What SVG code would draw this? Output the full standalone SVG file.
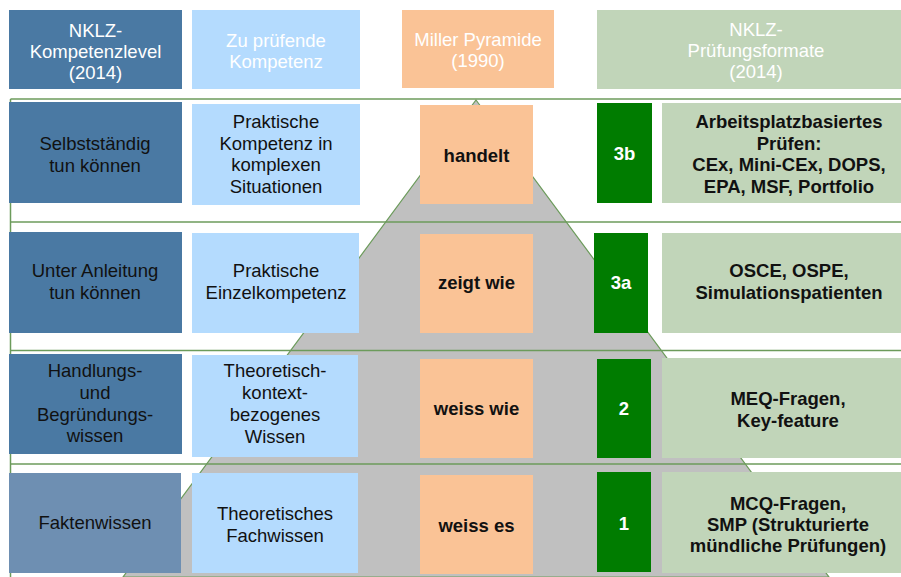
<svg xmlns="http://www.w3.org/2000/svg" width="901" height="577" viewBox="0 0 901 577">
<style>
.t{font-family:"Liberation Sans",Arial,sans-serif;font-size:18.5px;text-anchor:middle;fill:#111}
.h{fill:#ffffff}
.b{font-weight:bold}
.w{fill:#ffffff;font-weight:bold}
.db{fill:#4a79a3}
.db4{fill:#6e8fb2}
.lb{fill:#b4dbfe}
.or{fill:#fac396}
.sg{fill:#c1d5b9}
.gr{fill:#007c00}
.ln{stroke:#6c9b5b;stroke-width:1.5;fill:none}
</style>
<rect width="901" height="577" fill="#ffffff"/>
<g id="pyramid">
<polygon points="476,100 829,577 123,577" fill="#c0c0c0" stroke="#6c9b5b" stroke-width="1.2"/>
</g>
<g id="connectors">
<line class="ln" x1="10.5" y1="99" x2="901" y2="99"/>
<line class="ln" x1="10.5" y1="99" x2="10.5" y2="577"/>
<line class="ln" x1="10.5" y1="222" x2="901" y2="222"/>
<line class="ln" x1="10.5" y1="350.5" x2="901" y2="350.5"/>
<line class="ln" x1="10.5" y1="464" x2="901" y2="464"/>
</g>
<g id="header-kompetenzlevel">
<rect class="db" x="9" y="10" width="173" height="79"/>
<text class="t h" x="95.5" y="37">NKLZ-</text>
<text class="t h" x="95.5" y="58">Kompetenzlevel</text>
<text class="t h" x="95.5" y="79">(2014)</text>
</g>
<g id="header-kompetenz">
<rect class="lb" x="192" y="10" width="168" height="79"/>
<text class="t h" x="276" y="47">Zu prüfende</text>
<text class="t h" x="276" y="68">Kompetenz</text>
</g>
<g id="header-miller">
<rect class="or" x="402" y="10" width="152" height="78"/>
<text class="t h" x="478" y="46">Miller Pyramide</text>
<text class="t h" x="478" y="67">(1990)</text>
</g>
<g id="header-formate">
<rect class="sg" x="597" y="10" width="320" height="79"/>
<text class="t h" x="756" y="36">NKLZ-</text>
<text class="t h" x="756" y="57">Prüfungsformate</text>
<text class="t h" x="756" y="78">(2014)</text>
</g>
<g id="row1-level">
<rect class="db" x="9" y="102" width="173" height="101"/>
<text class="t" x="95" y="150">Selbstständig</text>
<text class="t" x="95" y="172">tun können</text>
</g>
<g id="row1-kompetenz">
<rect class="lb" x="192" y="104" width="168" height="101"/>
<text class="t" x="276" y="128">Praktische</text>
<text class="t" x="276" y="149.5">Kompetenz in</text>
<text class="t" x="276" y="171">komplexen</text>
<text class="t" x="276" y="193">Situationen</text>
</g>
<g id="row1-miller">
<rect class="or" x="420" y="105" width="113" height="99"/>
<text class="t b" x="476.5" y="162">handelt</text>
</g>
<g id="row1-num">
<rect class="gr" x="597" y="103" width="55" height="100"/>
<text class="t w" x="624.5" y="160">3b</text>
</g>
<g id="row1-format">
<rect class="sg" x="662" y="103" width="255" height="100"/>
<text class="t b" x="789" y="128">Arbeitsplatzbasiertes</text>
<text class="t b" x="789" y="149.5">Prüfen:</text>
<text class="t b" x="789" y="171">CEx, Mini-CEx, DOPS,</text>
<text class="t b" x="789" y="192.5">EPA, MSF, Portfolio</text>
</g>
<g id="row2-level">
<rect class="db" x="9" y="232" width="173" height="101"/>
<text class="t" x="95" y="277">Unter Anleitung</text>
<text class="t" x="95" y="299">tun können</text>
</g>
<g id="row2-kompetenz">
<rect class="lb" x="192" y="233" width="167" height="100"/>
<text class="t" x="276" y="277">Praktische</text>
<text class="t" x="276" y="299">Einzelkompetenz</text>
</g>
<g id="row2-miller">
<rect class="or" x="420" y="234" width="113" height="99"/>
<text class="t b" x="476.5" y="289">zeigt wie</text>
</g>
<g id="row2-num">
<rect class="gr" x="594" y="233" width="54" height="100"/>
<text class="t w" x="621" y="289">3a</text>
</g>
<g id="row2-format">
<rect class="sg" x="662" y="233" width="255" height="100"/>
<text class="t b" x="789" y="277">OSCE, OSPE,</text>
<text class="t b" x="789" y="299">Simulationspatienten</text>
</g>
<g id="row3-level">
<rect class="db" x="9" y="354" width="173" height="100"/>
<text class="t" x="95" y="377">Handlungs-</text>
<text class="t" x="95" y="399">und</text>
<text class="t" x="95" y="420.5">Begründungs-</text>
<text class="t" x="95" y="442">wissen</text>
</g>
<g id="row3-kompetenz">
<rect class="lb" x="192" y="355" width="166" height="102"/>
<text class="t" x="275" y="377">Theoretisch-</text>
<text class="t" x="275" y="399">kontext-</text>
<text class="t" x="275" y="420.5">bezogenes</text>
<text class="t" x="275" y="443">Wissen</text>
</g>
<g id="row3-miller">
<rect class="or" x="420" y="359" width="113" height="99"/>
<text class="t b" x="476.5" y="415">weiss wie</text>
</g>
<g id="row3-num">
<rect class="gr" x="597" y="359" width="54" height="99"/>
<text class="t w" x="624" y="415">2</text>
</g>
<g id="row3-format">
<rect class="sg" x="662" y="358" width="255" height="100"/>
<text class="t b" x="788" y="405">MEQ-Fragen,</text>
<text class="t b" x="788" y="427">Key-feature</text>
</g>
<g id="row4-level">
<rect class="db4" x="9" y="473" width="172" height="100"/>
<text class="t" x="95" y="529">Faktenwissen</text>
</g>
<g id="row4-kompetenz">
<rect class="lb" x="192" y="473" width="166" height="100"/>
<text class="t" x="275" y="519.5">Theoretisches</text>
<text class="t" x="275" y="541.5">Fachwissen</text>
</g>
<g id="row4-miller">
<rect class="or" x="420" y="475" width="113" height="99"/>
<text class="t b" x="476.5" y="532">weiss es</text>
</g>
<g id="row4-num">
<rect class="gr" x="597" y="472" width="54" height="100"/>
<text class="t w" x="624" y="529.5">1</text>
</g>
<g id="row4-format">
<rect class="sg" x="662" y="472" width="255" height="101"/>
<text class="t b" x="788" y="510">MCQ-Fragen,</text>
<text class="t b" x="788" y="531">SMP (Strukturierte</text>
<text class="t b" x="788" y="552">mündliche Prüfungen)</text>
</g>
</svg>
